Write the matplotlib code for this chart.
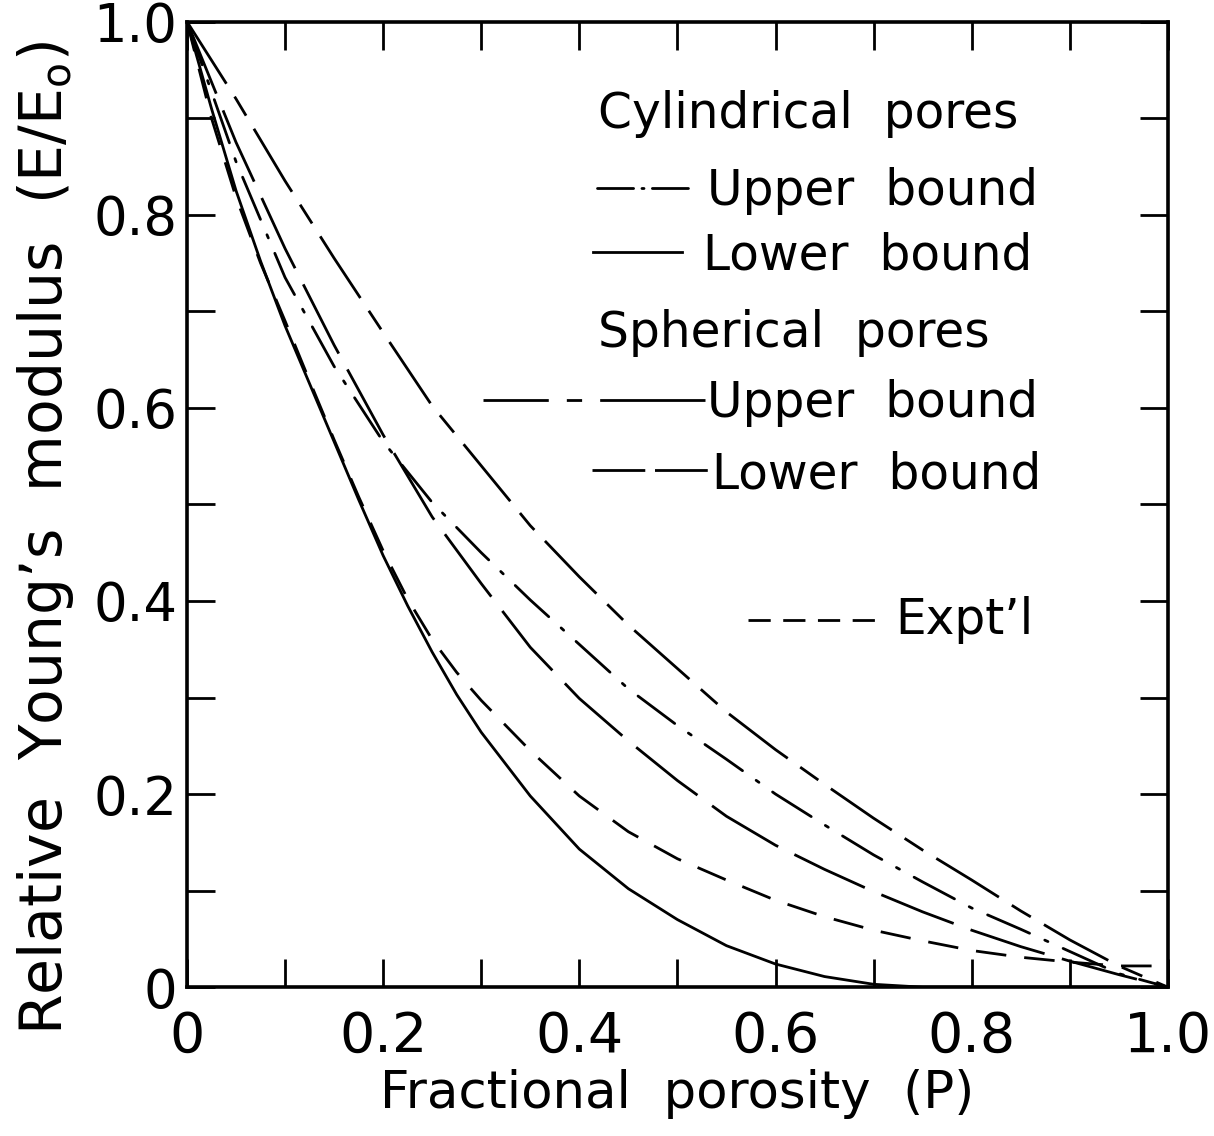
import numpy as np
import matplotlib
matplotlib.use("Agg")
import matplotlib.pyplot as plt

plt.rcParams['font.family'] = ['DejaVu Sans']
plt.rcParams['lines.scale_dashes'] = False

# Fractional porosity grid for the bound curves
porosity = [0.0, 0.05, 0.1, 0.15, 0.2, 0.25, 0.3, 0.35, 0.4, 0.45, 0.5,
            0.55, 0.6, 0.65, 0.7, 0.75, 0.8, 0.85, 0.9, 0.95, 1.0]
# finer grid where the lower curves bend most
porosity_fine = [0.0, 0.025, 0.05, 0.075, 0.1, 0.125, 0.15, 0.175, 0.2, 0.225, 0.25,
                 0.275, 0.3, 0.35, 0.4, 0.45, 0.5, 0.55, 0.6, 0.65, 0.7, 0.75,
                 0.8, 0.85, 0.9, 0.95, 1.0]

# Relative Young's modulus
sph_upper = [1.0, 0.92, 0.835, 0.755, 0.678, 0.602, 0.54, 0.478, 0.425, 0.375, 0.33,
             0.285, 0.246, 0.21, 0.175, 0.142, 0.111, 0.079, 0.049, 0.022, 0.0]
cyl_upper = [1.0, 0.855, 0.735, 0.643, 0.565, 0.502, 0.45, 0.401, 0.355, 0.309, 0.271,
             0.236, 0.200, 0.168, 0.137, 0.109, 0.082, 0.060, 0.037, 0.014, 0.0]
sph_lower = [1.0, 0.875, 0.765, 0.665, 0.572, 0.487, 0.418, 0.352, 0.299, 0.255, 0.214,
             0.177, 0.147, 0.122, 0.099, 0.078, 0.059, 0.042, 0.027, 0.013, 0.0]
expt = [1.0, 0.90, 0.818, 0.75, 0.69, 0.628, 0.567, 0.508, 0.452, 0.402, 0.36,
        0.326, 0.297, 0.245, 0.198, 0.161, 0.133, 0.111, 0.090, 0.073, 0.059, 0.048,
        0.038, 0.031, 0.026, 0.022, 0.022]
cyl_lower = [1.0, 0.91, 0.825, 0.752, 0.685, 0.625, 0.565, 0.505, 0.447, 0.395, 0.347,
             0.303, 0.264, 0.198, 0.143, 0.102, 0.07, 0.043, 0.024, 0.011, 0.003, 0.0,
             0.0, 0.0, 0.0, 0.0, 0.0]

fig = plt.figure(figsize=(12.14, 11.36), dpi=100)
ax = fig.add_axes([0.154, 0.131, 0.808, 0.850])

lw = 2.0
ax.plot(porosity, sph_upper, color='black', lw=lw, linestyle=(0, (53, 11, 16, 11)))
ax.plot(porosity, cyl_upper, color='black', lw=lw, linestyle=(0, (33, 12, 2.5, 12)),
        dash_capstyle='round')
ax.plot(porosity, sph_lower, color='black', lw=lw, linestyle=(0, (56, 13)))
ax.plot(porosity_fine, expt, color='black', lw=lw, linestyle=(0, (22, 13)))
ax.plot(porosity_fine, cyl_lower, color='black', lw=lw, linestyle='-')

ax.set_xlim(0, 1.0)
ax.set_ylim(0, 1.0)

xticks = [0, 0.2, 0.4, 0.6, 0.8, 1.0]
xlabels = ['0', '0.2', '0.4', '0.6', '0.8', '1.0']
ax.set_xticks(xticks)
ax.set_xticklabels(xlabels)
ax.set_yticks(xticks)
ax.set_yticklabels(xlabels)
ax.set_xticks([0.1, 0.3, 0.5, 0.7, 0.9], minor=True)
ax.set_yticks([0.1, 0.3, 0.5, 0.7, 0.9], minor=True)

ax.tick_params(which='both', direction='in', top=True, right=True,
               length=20, width=2)
ax.tick_params(axis='x', which='major', labelsize=40, pad=16)
ax.tick_params(axis='y', which='major', labelsize=38, pad=7)
for s in ax.spines.values():
    s.set_linewidth(2.6)

ax.set_xlabel('Fractional  porosity  (P)', fontsize=37)
ax.set_ylabel('Relative  Young\u2019s  modulus  (E/E$_\\mathregular{o}$)', fontsize=42)
ax.xaxis.set_label_coords(0.5, -0.085)
ax.yaxis.set_label_coords(-0.113, 0.465)

# legend drawn by hand to follow the original layout
tfs = 35
tr = ax.transAxes
ax.text(0.419, 0.904, 'Cylindrical  pores', fontsize=tfs, transform=tr, va='center')
ax.plot([0.418, 0.511], [0.828, 0.828], transform=tr, color='black', lw=lw,
        linestyle=(0, (26, 6, 1.5, 6)), dash_capstyle='round')
ax.text(0.530, 0.825, 'Upper  bound', fontsize=tfs, transform=tr, va='center')
ax.plot([0.414, 0.505], [0.761, 0.761], transform=tr, color='black', lw=lw)
ax.text(0.526, 0.758, 'Lower  bound', fontsize=tfs, transform=tr, va='center')
ax.text(0.419, 0.678, 'Spherical  pores', fontsize=tfs, transform=tr, va='center')
ax.plot([0.302, 0.528], [0.608, 0.608], transform=tr, color='black', lw=lw,
        linestyle=(0, (47, 13, 11, 13, 80, 20)))
ax.text(0.530, 0.605, 'Upper  bound', fontsize=tfs, transform=tr, va='center')
ax.plot([0.413, 0.533], [0.536, 0.536], transform=tr, color='black', lw=lw,
        linestyle=(0, (38, 7)))
ax.text(0.535, 0.531, 'Lower  bound', fontsize=tfs, transform=tr, va='center')
ax.plot([0.572, 0.706], [0.380, 0.380], transform=tr, color='black', lw=lw,
        linestyle=(0, (16, 9)))
ax.text(0.722, 0.380, 'Expt\u2019l', fontsize=tfs, transform=tr, va='center')

fig.savefig('out.png', dpi=100)
